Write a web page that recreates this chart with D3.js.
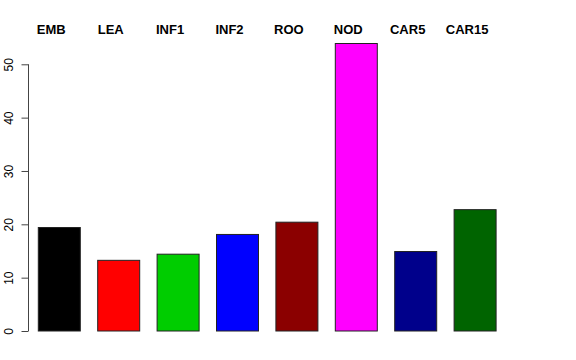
<!DOCTYPE html>
<html>
<head>
<meta charset="utf-8">
<script src="https://cdn.jsdelivr.net/npm/d3@7"></script>
<style>
  body { margin: 0; background: #fff; }
  svg { display: block; }
</style>
</head>
<body>
<svg id="chart" width="576" height="360"></svg>
<script>
const categories = ['EMB', 'LEA', 'INF1', 'INF2', 'ROO', 'NOD', 'CAR5', 'CAR15'];
const values = [19.4, 13.25, 14.4, 18.1, 20.4, 53.9, 14.9, 22.75];
const barColors = ['#000000', '#ff0000', '#00cd00', '#0000ff', '#8b0000', '#ff00ff', '#00008b', '#006400'];
const yTicks = [0, 10, 20, 30, 40, 50];

const width = 576;
const height = 360;

const svg = d3.select('#chart');

// scales
const x = d3.scaleBand()
  .domain(categories)
  .range([38.3, 496.1])
  .paddingInner(0.293)
  .paddingOuter(0);

const y = d3.scaleLinear()
  .domain([0, 50])
  .range([331, 64.3]);

// bars
svg.append('g')
  .selectAll('rect')
  .data(values)
  .enter()
  .append('rect')
  .attr('x', (d, i) => x(categories[i]))
  .attr('y', (d) => y(d))
  .attr('width', x.bandwidth())
  .attr('height', (d) => y(0) - y(d))
  .attr('fill', (d, i) => barColors[i])
  .attr('stroke', '#222')
  .attr('stroke-width', 1);

// y axis
const axis = svg.append('g')
  .attr('transform', 'translate(28.5,0)')
  .call(d3.axisLeft(y).tickValues(yTicks).tickSize(7).tickFormat(d3.format('d')));

axis.select('.domain')
  .attr('stroke', '#444')
  .attr('d', `M0,${y(0)}V${y(50)}`);
axis.selectAll('.tick line').attr('stroke', '#444');
axis.selectAll('.tick text')
  .attr('font-family', 'Liberation Sans, Arial, sans-serif')
  .attr('font-size', 12)
  .attr('fill', '#000')
  .attr('text-anchor', 'middle')
  .attr('x', 0)
  .attr('dy', 0)
  .attr('transform', 'translate(-16,0) rotate(-90)');

// category labels on top
svg.append('g')
  .selectAll('text')
  .data(categories)
  .enter()
  .append('text')
  .attr('x', (d) => x(d) + x.bandwidth() / 2 - 8)
  .attr('y', 34)
  .attr('text-anchor', 'middle')
  .attr('font-family', 'Liberation Sans, Arial, sans-serif')
  .attr('font-weight', 'bold')
  .attr('font-size', 13)
  .text((d) => d);
</script>
</body>
</html>
